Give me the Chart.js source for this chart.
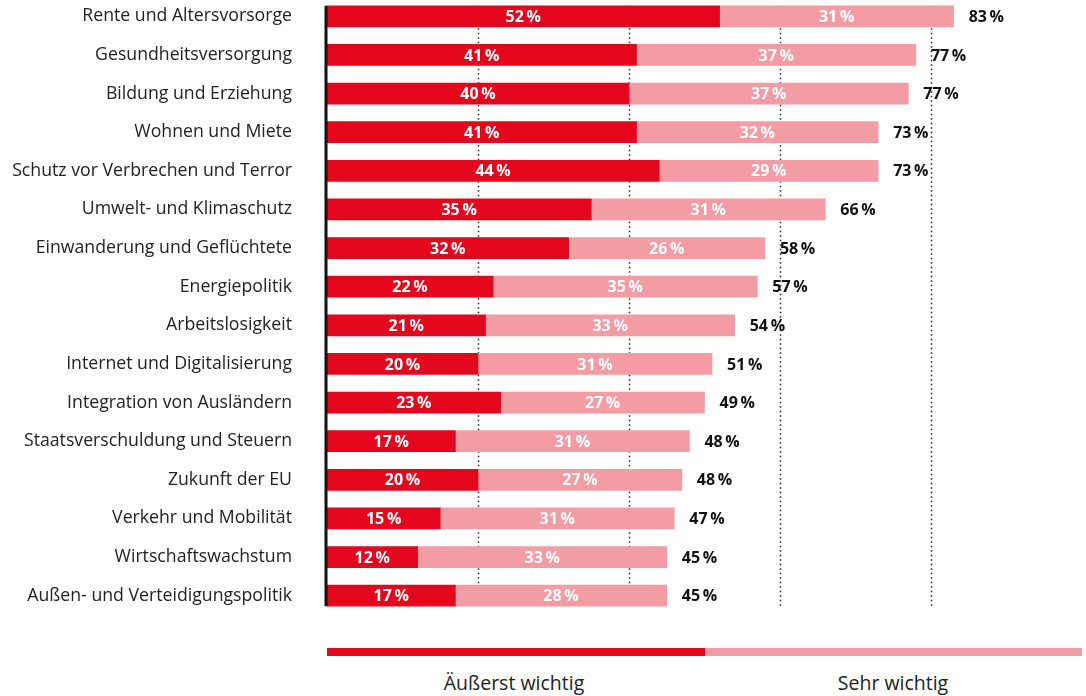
<!DOCTYPE html>
<html>
<head>
<meta charset="utf-8">
<script src="https://cdn.jsdelivr.net/npm/chart.js@4"></script>
<style>
  html, body { margin: 0; padding: 0; background: #fff; overflow: hidden; }
  #wrap { position: relative; width: 1086px; height: 696px; overflow: hidden; }
  #chart { position: absolute; left: 0; top: -22px; }
  .bar { position: absolute; top: 648px; height: 8px; }
  .lbl { position: absolute; top: 669px; font: 19.5px "Open Sans", sans-serif; color: #222; text-align: center; width: 300px; }
</style>
</head>
<body>
<div id="wrap">
  <canvas id="chart" width="1086" height="660"></canvas>
  <div class="bar" style="left:327px;width:378px;background:#e3061c"></div>
  <div class="bar" style="left:705px;width:377px;background:#f49ca3"></div>
  <div class="lbl" style="left:364px">Äußerst wichtig</div>
  <div class="lbl" style="left:743px">Sehr wichtig</div>
</div>
<script>
const categories = [
    'Rente und Altersvorsorge',
    'Gesundheitsversorgung',
    'Bildung und Erziehung',
    'Wohnen und Miete',
    'Schutz vor Verbrechen und Terror',
    'Umwelt- und Klimaschutz',
    'Einwanderung und Geflüchtete',
    'Energiepolitik',
    'Arbeitslosigkeit',
    'Internet und Digitalisierung',
    'Integration von Ausländern',
    'Staatsverschuldung und Steuern',
    'Zukunft der EU',
    'Verkehr und Mobilität',
    'Wirtschaftswachstum',
    'Außen- und Verteidigungspolitik'
];
const aeusserstWichtig = [52, 41, 40, 41, 44, 35, 32, 22, 21, 20, 23, 17, 20, 15, 12, 17];
const sehrWichtig = [31, 37, 37, 32, 29, 31, 26, 35, 33, 31, 27, 31, 27, 31, 33, 28];
const totals = [83, 77, 77, 73, 73, 66, 58, 57, 54, 51, 49, 48, 48, 47, 45, 45];
const gridValues = [20, 40, 60, 80];

const RED = '#e3061c';
const PINK = '#f49ca3';
const VALUE_FONT = 'bold 16px "Liberation Sans Narrow", "Open Sans", sans-serif';

// dotted grid + thick axis line, from first bar top to last bar bottom
const gridPlugin = {
    id: 'gridPlugin',
    beforeDatasetsDraw(chart) {
        const ctx = chart.ctx;
        const bars = chart.getDatasetMeta(0).data;
        const top = bars[0].y - 10.5;
        const bottom = bars[bars.length - 1].y + 10.5;
        const x = chart.scales.x;
        ctx.save();
        ctx.strokeStyle = '#222';
        ctx.lineWidth = 1.5;
        ctx.setLineDash([1.5, 3]);
        gridValues.forEach(v => {
            const px = Math.round(x.getPixelForValue(v)) + 0.5;
            ctx.beginPath();
            ctx.moveTo(px, top);
            ctx.lineTo(px, bottom);
            ctx.stroke();
        });
        ctx.restore();
    },
    afterDatasetsDraw(chart) {
        const ctx = chart.ctx;
        const bars = chart.getDatasetMeta(0).data;
        const top = bars[0].y - 10.5;
        const bottom = bars[bars.length - 1].y + 10.5;
        const x = chart.scales.x;
        ctx.save();
        ctx.strokeStyle = '#111';
        ctx.lineWidth = 3;
        ctx.beginPath();
        ctx.moveTo(x.getPixelForValue(0) - 1, top);
        ctx.lineTo(x.getPixelForValue(0) - 1, bottom);
        ctx.stroke();

        // value labels
        ctx.font = VALUE_FONT;
        ctx.textBaseline = 'middle';
        ctx.textAlign = 'center';
        ctx.fillStyle = '#fff';
        chart.data.datasets.forEach((ds, di) => {
            chart.getDatasetMeta(di).data.forEach((bar, i) => {
                ctx.fillText(ds.data[i] + '\u2009%', (bar.x + bar.base) / 2, bar.y + 1);
            });
        });
        // totals
        ctx.textAlign = 'left';
        ctx.fillStyle = '#111';
        chart.getDatasetMeta(1).data.forEach((bar, i) => {
            ctx.fillText(totals[i] + '\u2009%', bar.x + 15, bar.y + 1);
        });
        ctx.restore();
    }
};

const ctx = document.getElementById('chart').getContext('2d');
const myChart = new Chart(ctx, {
    type: 'bar',
    data: {
        labels: categories,
        datasets: [{
            label: 'Äußerst wichtig',
            data: aeusserstWichtig,
            backgroundColor: RED,
            barThickness: 21
        }, {
            label: 'Sehr wichtig',
            data: sehrWichtig,
            backgroundColor: PINK,
            barThickness: 21
        }]
    },
    options: {
        indexAxis: 'y',
        responsive: false,
        animation: false,
        layout: {
            padding: { top: 19, bottom: 23, right: 4, left: 0 }
        },
        plugins: {
            legend: { display: false },
            tooltip: { enabled: false }
        },
        scales: {
            x: {
                stacked: true,
                min: 0,
                max: 100,
                display: false
            },
            y: {
                stacked: true,
                grid: { display: false, drawTicks: false },
                border: { display: false },
                ticks: {
                    padding: 35,
                    color: '#222',
                    font: { family: '"Open Sans", sans-serif', size: 17.7 }
                },
                afterFit(scale) {
                    scale.width = 327;
                    scale.paddingTop = 0;
                    scale.paddingBottom = 0;
                }
            }
        }
    },
    plugins: [gridPlugin]
});
</script>
</body>
</html>
